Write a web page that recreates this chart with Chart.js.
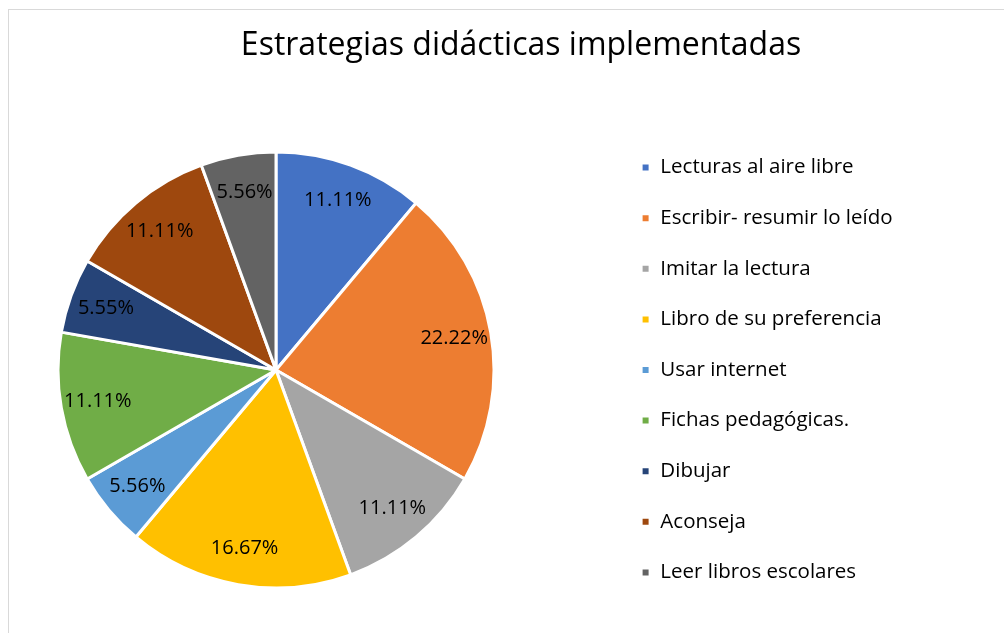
<!DOCTYPE html>
<html>
<head>
<meta charset="utf-8">
<script src="https://cdn.jsdelivr.net/npm/chart.js@4.4.1/dist/chart.umd.min.js"></script>
<style>
  html, body { margin: 0; padding: 0; background: #fff; overflow: hidden; }
  body { width: 1004px; height: 633px; position: relative; }
  #frame { position: absolute; left: 8px; top: 9px; width: 1100px; height: 700px; border: 1.5px solid #d9d9d9; }
  #chartStrategies { position: absolute; left: -59px; top: 0; }
</style>
</head>
<body>
<div id="frame"></div>
<canvas id="chartStrategies" width="1160" height="633"></canvas>
<script>
	let strategyLabels = [
		"Lecturas al aire libre",
		"Escribir- resumir lo leído",
		"Imitar la lectura",
		"Libro de su preferencia",
		"Usar internet",
		"Fichas pedagógicas.",
		"Dibujar",
		"Aconseja",
		"Leer libros escolares"
	];
	let strategyValues = [11.11, 22.22, 11.11, 16.67, 5.56, 11.11, 5.55, 11.11, 5.56];
	let strategyColors = [
		"#4472c4", "#ed7d31", "#a5a5a5", "#ffc000", "#5b9bd5",
		"#70ad47", "#264478", "#9e480e", "#636363"
	];

	let fontFamily = "'Open Sans'";

	// percentage text inside each slice
	let sliceLabelsPlugin = {
		id: "sliceLabels",
		afterDatasetsDraw(chart) {
			let ctx = chart.ctx;
			let meta = chart.getDatasetMeta(0);
			ctx.save();
			ctx.font = "20px " + fontFamily;
			ctx.fillStyle = "#000";
			ctx.textAlign = "center";
			ctx.textBaseline = "middle";
			meta.data.forEach(function(arc, i) {
				let p = arc.getProps(["x", "y", "startAngle", "endAngle", "outerRadius"], true);
				let mid = (p.startAngle + p.endAngle) / 2;
				let r = p.outerRadius * 0.83;
				ctx.fillText(strategyValues[i].toFixed(2) + "%", p.x + Math.cos(mid) * r, p.y + Math.sin(mid) * r);
			});
			ctx.restore();
		}
	};

	// wider legend box so the title centres over pie + legend
	let legendWidthPlugin = {
		id: "legendWidth",
		beforeInit(chart) {
			let fitLegend = chart.legend.fit;
			chart.legend.fit = function fit() {
				fitLegend.bind(chart.legend)();
				this.width = 490;
			};
		}
	};

	let ctx = document.getElementById("chartStrategies");

	let myPieChart = new Chart(ctx, {
		type: "pie",
		data: {
			labels: strategyLabels,
			datasets: [{
				data: strategyValues,
				backgroundColor: strategyColors,
				borderColor: "#fff",
				borderWidth: 3
			}]
		},
		options: {
			responsive: false,
			animation: false,
			radius: 218,
			layout: { padding: { left: 0, right: 0, top: 0, bottom: 13 } },
			plugins: {
				title: {
					display: true,
					text: "Estrategias didácticas implementadas",
					color: "#000",
					font: { family: fontFamily, size: 32, weight: "normal" },
					padding: { top: 27, bottom: 54.6 }
				},
				legend: {
					position: "right",
					fullSize: false,
					labels: {
						color: "#000",
						font: { family: fontFamily, size: 20.5 },
						boxWidth: 9,
						boxHeight: 9,
						padding: 30.1
					}
				},
				tooltip: { enabled: false }
			}
		},
		plugins: [sliceLabelsPlugin, legendWidthPlugin]
	});
</script>
</body>
</html>
